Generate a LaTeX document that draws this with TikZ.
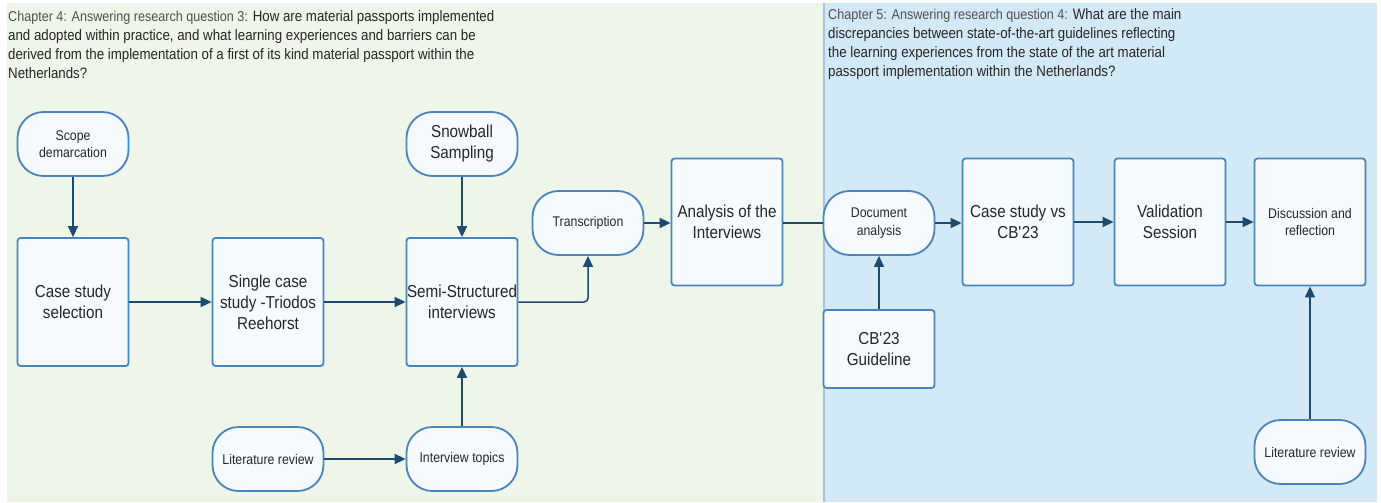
\documentclass[tikz,border=0pt]{standalone}
\usepackage{fontspec}
\setmainfont{Liberation Sans}[FakeStretch=0.88]
\usetikzlibrary{arrows.meta}

\definecolor{greenbg}{HTML}{EEF5E9}
\definecolor{bluebg}{HTML}{D3E9F6}
\definecolor{boxfill}{HTML}{F5FAFF}
\definecolor{boxline}{HTML}{4A84BC}
\definecolor{arrowcol}{HTML}{1F4A70}
\definecolor{divider}{HTML}{A5C6DE}
\definecolor{txt}{HTML}{262626}
\definecolor{greytxt}{HTML}{505050}

\tikzset{
  base/.style={draw=boxline, line width=1.8pt, fill=boxfill, text=txt,
    align=center, inner sep=0pt, minimum width=111pt},
  procbox/.style={base, rounded corners=3pt},
  termbox/.style={base, rounded corners=26pt, minimum height=64pt},
  bigtext/.style={font=\fontsize{17.3}{21}\selectfont},
  smalltext/.style={font=\fontsize{14}{17.5}\selectfont},
  arr/.style={draw=arrowcol, line width=1.5pt, -{Triangle[length=11pt,width=10pt]}},
  plainline/.style={draw=arrowcol, line width=1.5pt},
  header/.style={anchor=north west, align=left, inner sep=0pt, text=txt,
    font=\fontsize{15.1}{19}\selectfont},
}
\newcommand{\chaplabel}[1]{{\color{greytxt}\fontsize{14.3}{19}\selectfont #1}}
\newcommand{\cbname}{CB\textquotesingle 23}

\begin{document}
\begin{tikzpicture}[x=1pt, y=-1pt]
  \path[use as bounding box] (0,0) rectangle (1381,503);

  % chapter lanes
  \fill[greenbg] (7,3) rectangle (823,502);
  \fill[bluebg] (823,3) rectangle (1377,502);
  \draw[divider, line width=1.5pt] (824,3) -- (824,502);

  % lane headers
  \node[header] (h4) at (8,10) {\chaplabel{Chapter 4: Answering research question 3:} How are material passports implemented\\
    and adopted within practice, and what learning experiences and barriers can be\\
    derived from the implementation of a first of its kind material passport within the\\
    Netherlands?};
  \node[header] (h5) at (828,8) {\chaplabel{Chapter 5: Answering research question 4:} What are the main\\
    discrepancies between state-of-the-art guidelines reflecting\\
    the learning experiences from the state of the art material\\
    passport implementation within the Netherlands?};

  % chapter 4 steps
  \node[termbox, smalltext] (scope) at (73,144) {Scope\\demarcation};
  \node[procbox, bigtext, minimum height=128pt] (casesel) at (73,302) {Case study\\selection};
  \node[procbox, bigtext, minimum height=128pt] (single) at (268,302) {Single case\\study -Triodos\\Reehorst};
  \node[procbox, bigtext, minimum height=128pt] (semi) at (462,302) {Semi-Structured\\interviews};
  \node[termbox, bigtext] (snow) at (462,144) {Snowball\\Sampling};
  \node[termbox, smalltext] (lit1) at (268,459) {Literature review};
  \node[termbox, smalltext] (topics) at (462,459) {Interview topics};
  \node[termbox, smalltext] (trans) at (588,223) {Transcription};
  \node[procbox, bigtext, minimum height=127pt] (analysis) at (727,222) {Analysis of the\\Interviews};

  % chapter 5 steps
  \node[termbox, smalltext] (docan) at (879,223) {Document\\analysis};
  \node[procbox, bigtext, minimum height=78pt] (cb) at (879,349) {\cbname\\Guideline};
  \node[procbox, bigtext, minimum height=127pt] (cs) at (1018,222) {Case study vs\\\cbname};
  \node[procbox, bigtext, minimum height=127pt] (val) at (1170,222) {Validation\\Session};
  \node[procbox, smalltext, minimum height=127pt] (disc) at (1310,222) {Discussion and\\reflection};
  \node[termbox, smalltext] (lit2) at (1310,452) {Literature review};

  % connectors
  \draw[arr] (scope) -- (casesel);
  \draw[arr] (casesel) -- (single);
  \draw[arr] (single) -- (semi);
  \draw[arr] (snow) -- (semi);
  \draw[arr] (topics) -- (semi);
  \draw[arr] (lit1) -- (topics);
  \draw[arr, rounded corners=4pt] (semi.east) -| (trans.south);
  \draw[arr] (trans) -- (analysis.west |- trans);
  \draw[plainline] (analysis.east |- docan) -- (docan.west);
  \draw[arr] (cb) -- (docan);
  \draw[arr] (docan.east) -- (cs.west |- docan);
  \draw[arr] (cs) -- (val);
  \draw[arr] (val) -- (disc);
  \draw[arr] (lit2) -- (disc);
\end{tikzpicture}
\end{document}
